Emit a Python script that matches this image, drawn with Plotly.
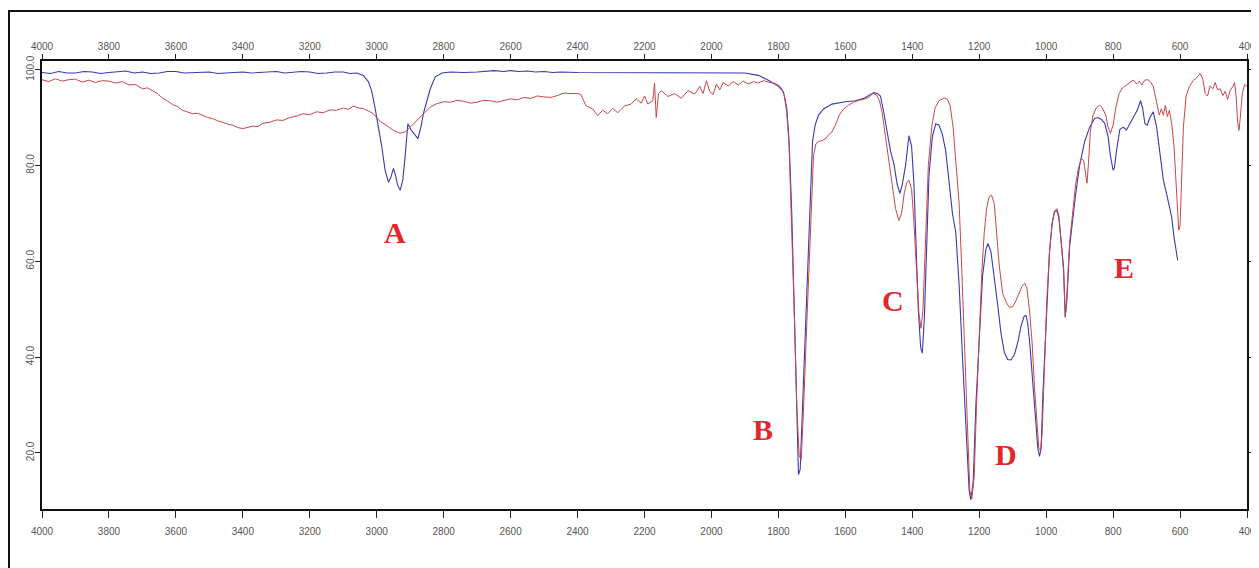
import plotly.graph_objects as go

# ---- data (wavenumber cm-1, transmittance %) ----
blue_wn = [4000, 3975, 3950, 3925, 3900, 3875, 3850, 3825, 3800, 3775, 3750, 3725, 3700, 3675, 3650,
           3625, 3600, 3575, 3550, 3525, 3500, 3475, 3450, 3425, 3400, 3375, 3350, 3325, 3300,
           3275, 3250, 3225, 3200, 3175, 3150, 3125, 3100, 3080, 3060, 3040, 3025, 3015, 3005, 2995,
           2985, 2975, 2965, 2958, 2950,
           2944, 2938, 2930, 2922, 2915, 2907, 2898, 2888, 2877, 2868, 2860, 2850, 2840, 2825, 2805,
           2780, 2740, 2700, 2670, 2650, 2620, 2600, 2575, 2550, 2525, 2500, 2475, 2450, 2400, 2300,
           2200, 2100, 2000, 1900, 1860, 1830,
           1800, 1785, 1775, 1768, 1760, 1752, 1745, 1740, 1735, 1728, 1720, 1712, 1705, 1698, 1690,
           1680, 1665, 1640, 1600, 1570, 1545, 1525, 1515, 1505, 1495, 1485, 1478, 1465, 1455, 1445,
           1437, 1430, 1420, 1410, 1402, 1395, 1388, 1382, 1375, 1370, 1364, 1357, 1350, 1340, 1330,
           1320, 1310, 1300, 1290, 1280, 1270, 1260, 1250, 1240, 1230, 1225, 1218, 1210, 1200, 1190,
           1180, 1174, 1165, 1155, 1145, 1135, 1125, 1115, 1105, 1095, 1085, 1075, 1066, 1060, 1055,
           1048, 1040, 1032, 1025, 1020, 1015, 1010, 1005, 998, 990, 982, 975, 968, 962, 955,
           948, 943, 938, 930, 922, 912, 900, 885, 870, 855, 845, 835, 825, 815, 808,
           800, 796, 790, 780, 770, 760, 750, 740, 728, 718, 712, 705, 698, 690, 680,
           670, 660, 650, 640, 632, 625, 618, 612, 607]
blue_t = [99.4, 99.2, 99.6, 99.3, 99.3, 99.6, 99.5, 99.2, 99.4, 99.6, 99.7, 99.3, 99.5, 99.2, 99.3,
          99.6, 99.6, 99.3, 99.4, 99.5, 99.5, 99.2, 99.3, 99.5, 99.5, 99.3, 99.4, 99.6, 99.6,
          99.3, 99.4, 99.6, 99.5, 99.2, 99.3, 99.5, 99.5, 99.2, 99.3, 98.8, 97.5, 95.5, 92.0, 88.0,
          84.0, 79.0, 76.5, 77.5, 79.4,
          78.0, 76.0, 74.8, 77.0, 82.0, 88.7, 87.5, 86.5, 85.6, 88.0, 91.0, 93.5, 96.0, 98.5, 99.3,
          99.5, 99.4, 99.5, 99.6, 99.8, 99.6, 99.8, 99.6, 99.7, 99.5, 99.6, 99.4, 99.5, 99.4, 99.4,
          99.4, 99.4, 99.4, 99.3, 98.8, 97.8,
          96.5, 95.4, 92.0, 85.0, 70.0, 50.0, 30.0, 15.5, 16.5, 30.0, 45.0, 58.0, 75.0, 85.0, 88.5,
          90.5, 91.8, 92.8, 93.3, 93.5, 94.0, 94.8, 95.2, 95.0, 94.5, 91.0, 88.0, 83.0, 80.4, 76.0,
          74.2, 76.0, 80.0, 86.2, 84.0, 76.0, 62.0, 50.0, 42.0, 40.8, 48.0, 65.0, 78.0, 86.0, 88.7,
          88.4, 86.5, 83.0, 77.0, 70.0, 66.0, 55.0, 40.0, 25.0, 12.0, 10.2, 14.0, 30.0, 45.0, 57.0,
          62.5, 63.7, 62.0, 57.0, 51.0, 45.0, 41.0, 39.5, 39.4, 40.5, 43.0, 46.5, 48.5, 48.7, 47.0,
          42.0, 35.0, 27.0, 21.0, 19.3, 21.0, 32.0, 40.0, 52.0, 62.0, 68.0, 70.3, 70.6, 69.0, 64.0,
          58.7, 48.3, 52.0, 63.0, 68.0, 74.0, 80.0, 85.0, 88.0, 89.8, 90.0, 89.6, 88.8, 86.0, 82.0,
          79.0, 79.5, 83.0, 87.5, 88.0, 87.4, 88.7, 90.0, 91.5, 93.5, 92.0, 88.7, 88.4, 90.0, 91.2,
          88.0, 83.0, 77.0, 74.0, 71.5, 69.2, 65.0, 62.0, 60.2]

red_wn = [4000, 3980, 3960, 3940, 3920, 3900, 3880, 3860, 3840, 3820, 3800, 3780, 3760, 3740, 3720,
          3700, 3685, 3670, 3655, 3640, 3625, 3610, 3595, 3580, 3565, 3550, 3535, 3520, 3505, 3490,
          3475, 3460, 3445, 3430, 3415, 3400, 3385, 3370, 3355, 3340, 3320, 3300, 3280, 3260, 3240,
          3220, 3200, 3180, 3160, 3140, 3120, 3100, 3085, 3070, 3055, 3040, 3010, 2990,
          2970, 2950, 2930, 2915, 2900, 2880, 2860, 2840, 2820, 2800, 2780, 2760, 2740, 2720, 2700,
          2680, 2660, 2640, 2620, 2600, 2580, 2560, 2540, 2520, 2500, 2480, 2460, 2440, 2420, 2400,
          2390, 2375, 2355, 2340, 2325, 2310, 2295, 2280, 2260, 2240,
          2225, 2210, 2200, 2190, 2175, 2170, 2165, 2158, 2150, 2130, 2110, 2090, 2070, 2050, 2035,
          2025, 2015, 2005, 1995, 1985, 1975, 1965, 1950, 1935, 1920, 1905, 1890, 1875, 1860, 1845,
          1830, 1815, 1800, 1790, 1782, 1775, 1768, 1760, 1752, 1745, 1738, 1732, 1726, 1718, 1710,
          1702, 1695, 1688, 1680, 1670, 1660, 1650, 1640, 1630, 1618, 1605, 1590, 1575, 1560, 1545,
          1530, 1518, 1508, 1498, 1490, 1480, 1470, 1460, 1450, 1440, 1432, 1424, 1416, 1410, 1402,
          1395, 1388, 1380, 1374, 1368, 1360, 1352, 1342, 1332, 1320, 1305, 1295, 1287, 1278, 1268,
          1260, 1252, 1242, 1235, 1228, 1222, 1215, 1208, 1200, 1192, 1185, 1178, 1170, 1163, 1155,
          1148, 1140, 1130, 1120, 1110, 1100, 1090, 1080, 1072, 1064, 1058, 1050, 1042, 1035, 1028,
          1022, 1017, 1012, 1006, 998, 990, 982, 975, 968, 962, 955, 948, 943, 938, 930,
          922, 912, 905, 895, 888, 882, 878, 874, 868, 860, 850, 840, 832, 822, 815,
          808, 800, 792, 782, 772, 760, 748, 740, 730, 722, 714, 706, 696, 688, 680,
          674, 668, 662, 656, 650, 644, 638, 632, 625, 618, 613, 608, 604, 600, 596,
          590, 582, 572, 560, 550, 540, 532, 525, 518, 510, 502, 495, 488, 480, 472,
          465, 458, 450, 443, 437, 432, 428, 424, 420, 414, 407, 400]
red_t = [97.9, 97.5, 98.1, 97.6, 97.9, 98.0, 97.4, 97.8, 97.3, 97.7, 97.6, 97.2, 97.5, 96.8, 96.9,
         96.0, 96.2, 95.6, 95.0, 94.0, 93.5, 92.7, 92.3, 91.5, 91.2, 90.8, 90.9, 90.5, 90.0, 89.8,
         89.3, 89.0, 88.6, 88.4, 87.9, 87.7, 88.0, 88.2, 88.1, 88.8, 89.0, 89.5, 89.4, 90.0, 90.3,
         90.8, 90.6, 91.2, 91.0, 91.6, 91.5, 92.0, 91.7, 92.4, 92.0, 91.9, 90.8, 89.2,
         88.3, 87.3, 86.7, 87.0, 88.0, 89.5, 90.8, 92.2, 92.9, 93.3, 93.2, 93.6, 93.4, 93.0, 93.2,
         93.6, 93.5, 93.2, 93.6, 93.9, 93.7, 94.2, 94.0, 94.5, 94.3, 94.2, 94.6, 95.1, 95.0, 95.0,
         94.8, 92.5, 91.8, 90.4, 91.5, 90.8, 91.9, 91.0, 92.4, 92.8,
         93.9, 93.0, 94.5, 92.8, 93.5, 97.2, 90.0, 95.0, 95.6, 94.4, 95.0, 94.0, 95.6, 94.9, 96.5,
         95.0, 97.7, 95.4, 94.8, 97.0, 95.8, 97.3, 96.6, 97.5, 96.8, 97.6, 97.0, 97.5, 97.2, 97.7,
         97.4, 97.2, 96.8, 96.0, 94.5, 91.0, 84.0, 68.0, 48.0, 30.0, 19.5, 18.5, 27.0, 42.0, 56.0,
         72.0, 82.0, 84.5, 85.0, 85.2, 85.5, 86.4, 87.0, 88.4, 90.5, 91.8, 92.6, 93.2, 93.6, 93.8,
         94.2, 95.0, 94.8, 93.5, 91.0, 86.0, 81.0, 76.0, 71.0, 68.5, 70.0, 74.2, 76.5, 76.9, 75.0,
         68.0, 58.0, 49.0, 46.0, 50.0, 65.0, 80.0, 88.0, 92.0, 93.5, 94.1, 93.8, 92.5, 88.0, 80.0,
         72.0, 58.0, 40.0, 25.0, 12.0, 10.5, 15.0, 30.0, 45.0, 58.0, 66.0, 71.0, 73.5, 73.8, 72.0,
         66.0, 59.0, 53.3, 51.5, 50.4, 50.5, 51.8, 53.5, 54.8, 55.4, 54.5, 50.0, 43.0, 34.0, 26.0,
         21.0, 20.5, 24.0, 36.0, 52.0, 62.0, 68.0, 70.5, 71.0, 69.5, 64.0, 58.0, 48.5, 53.0, 64.0,
         70.0, 76.0, 79.0, 81.5, 81.0, 78.0, 76.3, 80.0, 87.0, 90.5, 92.0, 92.6, 92.0, 90.5, 88.0,
         86.7, 88.5, 92.0, 95.0, 96.2, 96.8, 97.5, 97.8, 97.0, 97.6, 96.8, 97.8, 97.9, 97.4, 96.5,
         94.5, 92.0, 90.5, 91.8, 90.5, 92.5, 90.2, 91.5, 88.7, 84.0, 78.0, 70.0, 66.5, 67.5, 75.0,
         88.0, 94.5, 96.5, 97.8, 98.3, 99.2, 98.0, 95.0, 94.5, 96.6, 96.0, 97.3, 95.8, 96.0, 94.6,
         95.5, 93.8, 95.7, 96.4, 97.3, 94.0, 89.0, 87.3, 90.0, 95.0, 96.9, 96.5]

x_ticks = [4000, 3800, 3600, 3400, 3200, 3000, 2800, 2600, 2400, 2200, 2000, 1800, 1600, 1400,
           1200, 1000, 800, 600, 400]
y_ticks = [20, 40, 60, 80, 100]

peak_labels = ["A", "B", "C", "D", "E"]
label_wn = [2946, 1847, 1457, 1119, 768]
label_t = [66.1, 24.8, 51.9, 19.6, 58.8]

# ---- styling ----
X_RANGE = [4000, 400]
Y_RANGE = [8.3, 101.8]
BLUE = "#3a3ab0"
RED = "#c8474a"
TICK_FONT = dict(family="Liberation Sans Narrow, Liberation Sans, Arial, sans-serif", size=10, color="#555555")

fig = go.Figure()
fig.add_trace(go.Scatter(x=blue_wn, y=blue_t, mode="lines", xaxis="x", yaxis="y",
                         line=dict(color=BLUE, width=1.1), showlegend=False, hoverinfo="skip"))
fig.add_trace(go.Scatter(x=red_wn, y=red_t, mode="lines", xaxis="x2", yaxis="y2",
                         line=dict(color=RED, width=1.0), showlegend=False, hoverinfo="skip"))

for lab, xv, yv in zip(peak_labels, label_wn, label_t):
    fig.add_annotation(x=xv, y=yv, xref="x", yref="y", text="<b>%s</b>" % lab, showarrow=False,
                       font=dict(family="Liberation Serif, DejaVu Serif, serif", size=30, color="#e3262b"))

axis_common = dict(showgrid=False, zeroline=False, showline=True, linecolor="#111111", linewidth=2,
                   ticks="outside", tickcolor="#222222", tickwidth=1, tickfont=TICK_FONT,
                   automargin=False)

# page body adds an 8px offset, so margins are set 8px smaller on the left/top
fig.update_layout(
    width=1259, height=568,
    margin=dict(l=34, r=20, t=53, b=67, autoexpand=False),
    paper_bgcolor="white", plot_bgcolor="white",
    xaxis=dict(range=X_RANGE, tickvals=x_ticks, ticktext=[str(v) for v in x_ticks], side="bottom",
               anchor="y", ticklen=7, ticklabelstandoff=5, **axis_common),
    xaxis2=dict(range=X_RANGE, tickvals=x_ticks, ticktext=[str(v) for v in x_ticks], side="top",
                overlaying="x", anchor="y2", ticklen=5, **axis_common),
    yaxis=dict(range=Y_RANGE, tickvals=y_ticks, tickformat=".1f", tickangle=-90, side="left",
               anchor="x", ticklen=5, ticklabelstandoff=-3, **axis_common),
    yaxis2=dict(range=Y_RANGE, tickvals=y_ticks, tickformat=".1f", tickangle=-90, side="right",
                overlaying="y", anchor="x2", ticklen=4, **axis_common),
    shapes=[dict(type="rect", xref="paper", yref="paper", x0=-0.0274, x1=1.02, y0=-0.14, y1=1.1116,
                 line=dict(color="#111111", width=2), fillcolor="rgba(0,0,0,0)", layer="below")],
)

fig.write_html("out.html")
